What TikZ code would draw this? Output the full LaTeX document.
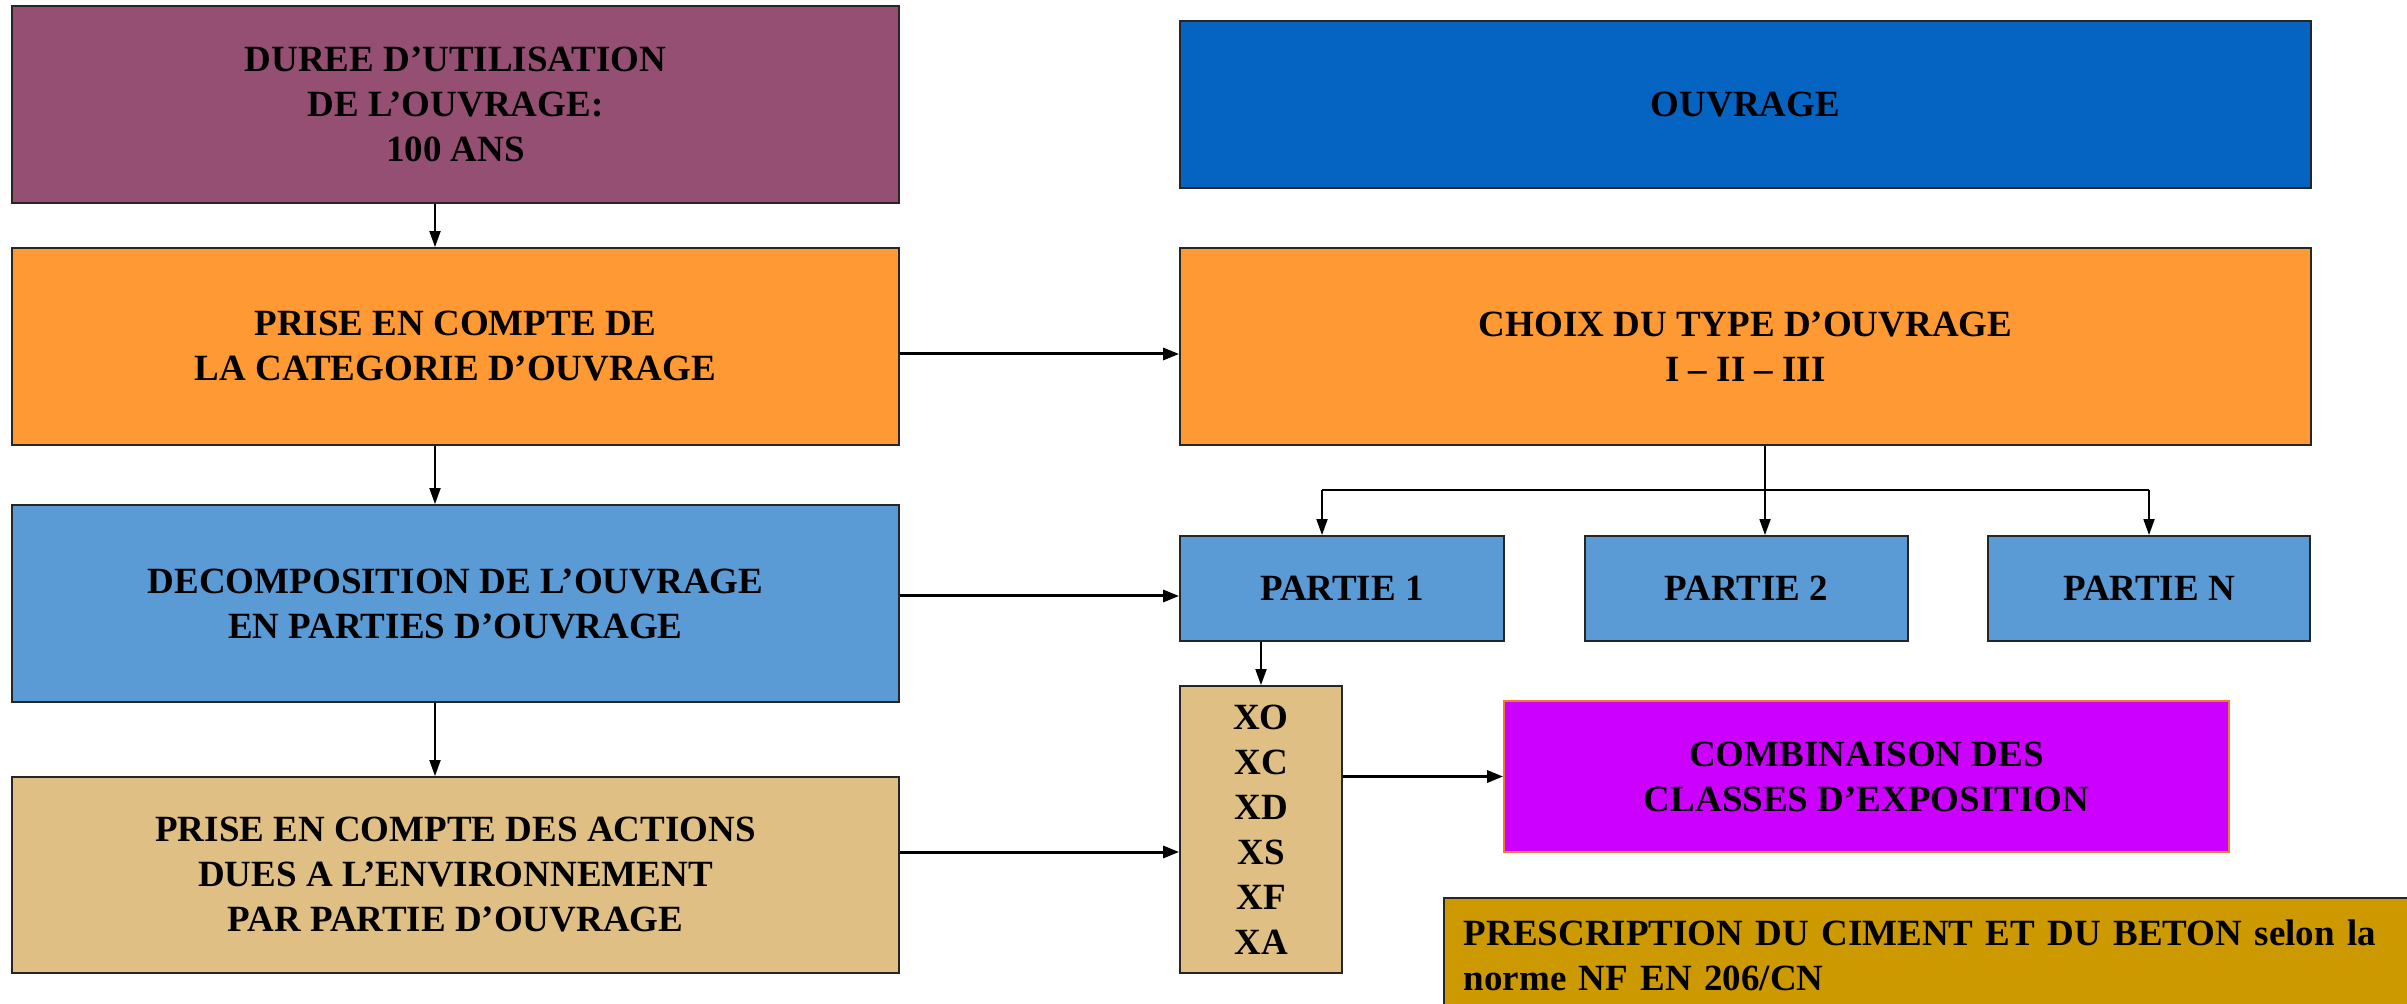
\documentclass[tikz,border=0pt]{standalone}
\usepackage{fontspec}
\setmainfont{Liberation Serif}
\usetikzlibrary{arrows.meta,calc}
\definecolor{cmauve}{HTML}{954F72}
\definecolor{corange}{HTML}{FF9933}
\definecolor{cblue}{HTML}{0563C1}
\definecolor{clblue}{HTML}{5B9BD5}
\definecolor{ctan}{HTML}{E0BF85}
\definecolor{cmag}{HTML}{CC00FF}
\definecolor{cgold}{HTML}{CC9900}
\definecolor{cborder}{HTML}{F07A30}
\tikzset{
  box/.style={draw=black!85, line width=0.9pt, align=center, inner sep=0pt,
    font=\fontsize{18.5pt}{22.5pt}\selectfont\bfseries},
  arr/.style={-{Triangle[length=8pt,width=5.5pt]}, line width=0.9pt, black},
  arrb/.style={-{Triangle[length=8pt,width=6pt]}, line width=1.5pt, black},
  ln/.style={line width=0.9pt, black}
}
\begin{document}
\begin{tikzpicture}[x=0.5pt,y=-0.5pt]
\useasboundingbox (0,0) rectangle (2407,1004);
% left column
\node[box, fill=cmauve, minimum width=443.5pt, minimum height=98.5pt] (dur) at (455.5,104.5)
  {DUREE D’UTILISATION\\DE L’OUVRAGE:\\100 ANS};
\node[box, fill=corange, minimum width=443.5pt, minimum height=98.5pt] (cat) at (455.5,346.5)
  {PRISE EN COMPTE DE\\LA CATEGORIE D’OUVRAGE};
\node[box, fill=clblue, minimum width=443.5pt, minimum height=98.5pt] (dec) at (455.5,603.5)
  {DECOMPOSITION DE L’OUVRAGE\\EN PARTIES D’OUVRAGE};
\node[box, fill=ctan, minimum width=443.5pt, minimum height=98pt] (act) at (455.5,875)
  {PRISE EN COMPTE DES ACTIONS\\DUES A L’ENVIRONNEMENT\\PAR PARTIE D’OUVRAGE};
% right column
\node[box, fill=cblue, minimum width=565.5pt, minimum height=83.5pt] (ouv) at (1745.5,104.5)
  {OUVRAGE};
\node[box, fill=corange, minimum width=565.5pt, minimum height=98.5pt] (choix) at (1745.5,346.5)
  {CHOIX DU TYPE D’OUVRAGE\\I – II – III};
\node[box, fill=clblue, minimum width=162pt, minimum height=52.5pt] (p1) at (1342,588.5) {PARTIE 1};
\node[box, fill=clblue, minimum width=161.5pt, minimum height=52.5pt] (p2) at (1746.5,588.5) {PARTIE 2};
\node[box, fill=clblue, minimum width=161pt, minimum height=52.5pt] (pN) at (2149,588.5) {PARTIE N};
\node[box, fill=ctan, minimum width=81pt, minimum height=143.5pt] (xo) at (1261,829.5)
  {XO\\XC\\XD\\XS\\XF\\XA};
\node[box, fill=cmag, draw=cborder, minimum width=362.5pt, minimum height=75.5pt] (comb) at (1866.5,776.5)
  {COMBINAISON DES\\CLASSES D’EXPOSITION};
\node[box, fill=cgold, anchor=north west, align=left, text width=469pt,
  inner xsep=10pt, inner ysep=0pt] (presc) at (1443,897)
  {\rule{0pt}{24pt}PRESCRIPTION DU CIMENT ET DU BETON selon la\\norme NF EN 206/CN\rule[-12pt]{0pt}{12pt}};
% connectors
\draw[arr] (dur.south -| 435,0) -- (cat.north -| 435,0);
\draw[arr] (cat.south -| 435,0) -- (dec.north -| 435,0);
\draw[arr] (dec.south -| 435,0) -- (act.north -| 435,0);
\draw[arrb] (cat.east |- 0,354) -- (choix.west |- 0,354);
\draw[arrb] (dec.east |- 0,596) -- (p1.west |- 0,596);
\draw[arrb] (act.east |- 0,852) -- (xo.west |- 0,852);
\draw[arrb] (xo.east |- comb.west) -- (comb.west);
\coordinate (bm) at (1765,490);
\coordinate (bl) at (1322,490);
\coordinate (br) at (2149,490);
\draw[ln] (choix.south -| bm) -- (bm);
\draw[ln] (bl) -- (br);
\draw[arr] (bl) -- (bl |- p1.north);
\draw[arr] (bm) -- (bm |- p2.north);
\draw[arr] (br) -- (br |- pN.north);
\draw[arr] (p1.south -| xo.north) -- (xo.north);
\end{tikzpicture}
\end{document}
